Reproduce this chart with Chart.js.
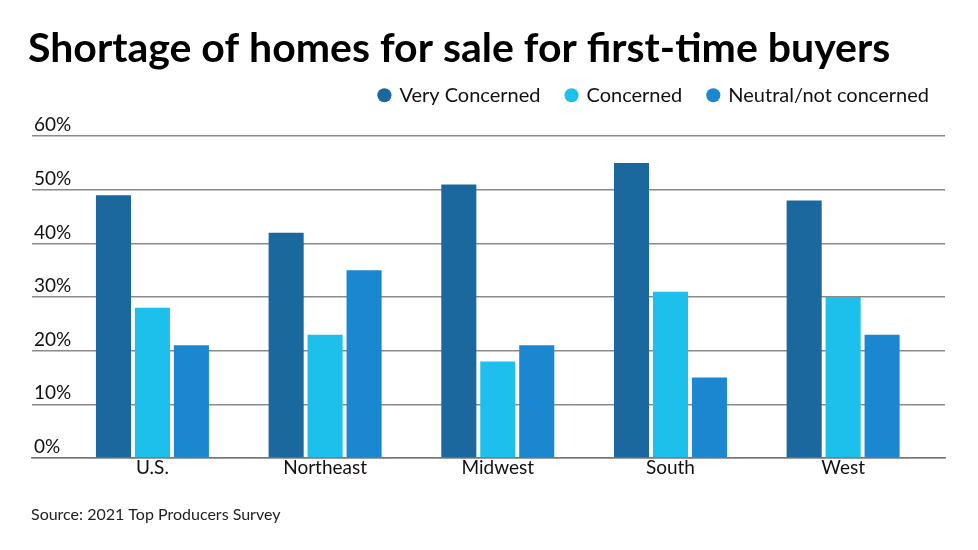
<!DOCTYPE html>
<html>
<head>
<meta charset="utf-8">
<script src="https://cdn.jsdelivr.net/npm/chart.js@4/dist/chart.umd.min.js"></script>
<style>
  html, body { margin: 0; padding: 0; background: #ffffff; }
  #wrap { width: 978px; height: 550px; position: relative; }
</style>
</head>
<body>
<div id="wrap"><canvas id="c" width="978" height="550"></canvas></div>
<script>
const categories = ["U.S.", "Northeast", "Midwest", "South", "West"];
const seriesNames = ["Very Concerned", "Concerned", "Neutral/not concerned"];
const veryConcerned = [49, 42, 51, 55, 48];
const concerned = [28, 23, 18, 31, 30];
const neutral = [21, 35, 21, 15, 23];
const yTicks = [0, 10, 20, 30, 40, 50, 60];
const colors = ["#1b689f", "#1dbfeb", "#1b87d1"];
const sourceText = "Source: 2021 Top Producers Survey";

const FONT = "Lato, 'Open Sans', sans-serif";

function toPoints(arr) { return arr.map((v, i) => ({ x: i, y: v })); }

const boxShift = {
  id: 'boxShift',
  afterLayout(chart) {
    const lg = chart.legend;
    if (lg) {
      lg.left += 10; lg.right += 10;
      lg.top -= 21; lg.bottom -= 21;
    }
    const sub = chart.boxes.find(b => b.options && b.options.text === sourceText);
    if (sub) { sub.left += 3; sub.right += 3; }
  }
};

new Chart(document.getElementById('c'), {
  type: 'bar',
  data: {
    datasets: [veryConcerned, concerned, neutral].map((vals, k) => ({
      label: seriesNames[k],
      data: toPoints(vals),
      backgroundColor: colors[k],
      borderWidth: 0,
      categoryPercentage: 0.677,
      barPercentage: 0.9
    }))
  },
  options: {
    responsive: false,
    animation: false,
    devicePixelRatio: 1,
    layout: { padding: { left: 28, right: 33, top: 0, bottom: 26 } },
    plugins: {
      title: {
        display: true,
        text: "Shortage of homes for sale for first-time buyers",
        align: 'start',
        color: '#000000',
        font: { family: FONT, size: 41, weight: 'bold', lineHeight: 1.2 },
        padding: { top: 24, bottom: 7 }
      },
      subtitle: {
        display: true,
        position: 'bottom',
        align: 'start',
        text: sourceText,
        color: '#222222',
        font: { family: FONT, size: 16, lineHeight: 1.2 },
        padding: { top: 28, bottom: 0 }
      },
      legend: {
        display: true,
        position: 'top',
        align: 'end',
        labels: {
          usePointStyle: true,
          pointStyle: 'circle',
          boxWidth: 10,
          boxHeight: 10,
          padding: 26,
          color: '#111111',
          font: { family: FONT, size: 20 }
        }
      },
      tooltip: { enabled: false }
    },
    scales: {
      x: {
        type: 'linear',
        min: -0.6975,
        max: 4.59,
        offset: false,
        afterBuildTicks: (s) => { s.ticks = categories.map((c, i) => ({ value: i })); },
        ticks: {
          callback: (v) => categories[v] ?? '',
          color: '#111111',
          font: { family: FONT, size: 19 },
          padding: -2,
          maxRotation: 0,
          autoSkip: false
        },
        grid: { display: false, drawTicks: false },
        border: { display: true, color: '#777777', width: 1.5 }
      },
      y: {
        min: 0,
        max: 60,
        afterBuildTicks: (s) => { s.ticks = yTicks.map(v => ({ value: v })); },
        ticks: {
          mirror: true,
          padding: 2,
          labelOffset: -11,
          callback: (v) => v + '%',
          color: '#111111',
          font: { family: FONT, size: 19 }
        },
        grid: { color: '#8a8a8a', lineWidth: 1.5, drawTicks: false },
        border: { display: false }
      }
    }
  },
  plugins: [boxShift]
});
</script>
</body>
</html>
